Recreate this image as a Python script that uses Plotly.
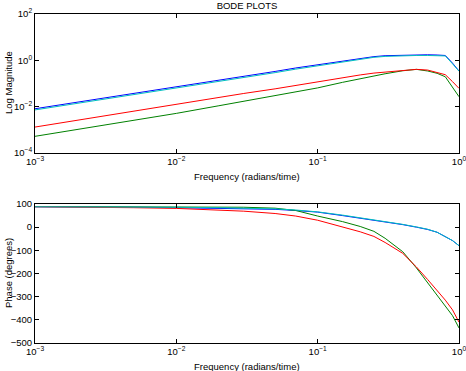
import numpy as np
import plotly.graph_objects as go

# Frequency grid (radians/time)
freq = [0.001, 0.002, 0.005, 0.01, 0.02, 0.03, 0.05, 0.07, 0.1, 0.15,
        0.2, 0.25, 0.3, 0.4, 0.5, 0.6, 0.7, 0.8, 0.9, 1.0]

# log10 of magnitude
logmag_blue = [-2.09, -1.81, -1.43, -1.15, -0.86, -0.69, -0.48, -0.33, -0.19, -0.02,
               0.09, 0.16, 0.20, 0.23, 0.24, 0.24, 0.23, 0.21, -0.12, -0.46]
logmag_cyan = [-2.14, -1.86, -1.48, -1.20, -0.91, -0.74, -0.53, -0.38, -0.24, -0.06,
               0.05, 0.13, 0.17, 0.20, 0.21, 0.21, 0.21, 0.19, -0.15, -0.47]
logmag_red = [-2.88, -2.58, -2.18, -1.89, -1.60, -1.43, -1.23, -1.08, -0.94, -0.74,
              -0.63, -0.55, -0.50, -0.44, -0.39, -0.42, -0.51, -0.62, -0.92, -1.21]
logmag_green = [-3.28, -2.99, -2.60, -2.29, -1.96, -1.77, -1.52, -1.36, -1.19, -0.95,
                -0.79, -0.67, -0.58, -0.45, -0.39, -0.46, -0.56, -0.71, -1.14, -1.57]

# Phase in degrees
phase_blue = [88, 88, 86, 84, 82, 81, 77, 72, 65, 50,
              39, 31, 24, 11, 0, -10, -22, -40, -58, -80]
phase_cyan = [88, 88, 87, 86, 84, 83, 79, 74, 66, 52,
              41, 33, 25, 12, 1, -9, -22, -40, -58, -80]
phase_red = [88, 87, 84, 81, 74, 69, 59, 48, 30, 2,
             -20, -40, -66, -113, -172, -226, -274, -315, -357, -410]
phase_green = [89, 88.5, 88, 87.5, 87, 86, 82, 72, 48, 24,
               3, -18, -48, -106, -176, -240, -295, -340, -382, -435]

# Tick labels
x_tickvals = [0.001, 0.01, 0.1, 1]
x_ticktext = ["10<sup>−3</sup>", "10<sup>−2</sup>", "10<sup>−1</sup>", "10<sup>0</sup>"]
mag_tickvals = [1e-4, 1e-2, 1, 1e2]
mag_ticktext = ["10<sup>−4</sup>", "10<sup>−2</sup>", "10<sup>0</sup>", "10<sup>2</sup>"]
phase_tickvals = [100, 0, -100, -200, -300, -400, -500]
phase_ticktext = ["100", "0", "−100", "−200", "−300", "−400", "−500"]

series = [
    ("blue", logmag_blue, phase_blue, "#0000ff"),
    ("green", logmag_green, phase_green, "#008000"),
    ("red", logmag_red, phase_red, "#ff0000"),
    ("cyan", logmag_cyan, phase_cyan, "#00bfbf"),
]

fig = go.Figure()
for name, lm, ph, col in series:
    fig.add_trace(go.Scatter(x=freq, y=10 ** np.array(lm), mode="lines",
                             line=dict(color=col, width=1), xaxis="x", yaxis="y",
                             showlegend=False, name=name, hoverinfo="skip"))
    fig.add_trace(go.Scatter(x=freq, y=ph, mode="lines",
                             line=dict(color=col, width=1), xaxis="x2", yaxis="y2",
                             showlegend=False, name=name, hoverinfo="skip"))

FAM = "Liberation Sans, Arial, sans-serif"
font = dict(family=FAM, size=9.5, color="black")
axis_common = dict(showline=True, linecolor="black", linewidth=1, mirror="ticks",
                   ticks="inside", ticklen=4, tickcolor="black", showgrid=False,
                   zeroline=False, tickfont=font, automargin=False,
                   ticklabeloverflow="allow")

fig.update_layout(
    width=466, height=371,
    margin=dict(l=35, r=7, t=14, b=28, autoexpand=False),
    paper_bgcolor="white", plot_bgcolor="white",
    font=font,
    title=dict(text="BODE PLOTS", x=0.5, xanchor="center", xref="paper",
               y=1 - 6 / 371, yanchor="middle", yref="container", automargin=False,
               font=dict(family=FAM, size=9.5, color="black")),
    xaxis=dict(type="log", range=[-3, 0], tickvals=x_tickvals, ticktext=x_ticktext,
               domain=[0, 1], anchor="y", **axis_common),
    yaxis=dict(type="log", range=[-4, 2], tickvals=mag_tickvals, ticktext=mag_ticktext,
               domain=[1 - 139 / 329, 1], anchor="x", **axis_common),
    xaxis2=dict(type="log", range=[-3, 0], tickvals=x_tickvals, ticktext=x_ticktext,
                domain=[0, 1], anchor="y2", **axis_common),
    yaxis2=dict(range=[-500, 100], tickvals=phase_tickvals, ticktext=phase_ticktext,
                domain=[0, 139 / 329], anchor="x2", **axis_common),
    annotations=[
        dict(text="Frequency (radians/time)", xref="paper", yref="paper",
             x=0.5, y=(329 - (176 - 14)) / 329, xanchor="center", yanchor="middle",
             showarrow=False, font=font),
        dict(text="Frequency (radians/time)", xref="paper", yref="paper",
             x=0.5, y=(329 - (366 - 14)) / 329, xanchor="center", yanchor="middle",
             showarrow=False, font=font),
        dict(text="Log Magnitude", xref="paper", yref="paper", textangle=-90,
             x=(8 - 35) / 424, y=(329 - (83 - 14)) / 329, xanchor="center",
             yanchor="middle", showarrow=False, font=font),
        dict(text="Phase (degrees)", xref="paper", yref="paper", textangle=-90,
             x=(8 - 35) / 424, y=(329 - (273 - 14)) / 329, xanchor="center",
             yanchor="middle", showarrow=False, font=font),
    ],
)

fig.write_html("out.html",
               config={"displayModeBar": False, "staticPlot": True},
               post_script="document.body.style.margin='0';"
                           "document.body.style.overflow='hidden';")
